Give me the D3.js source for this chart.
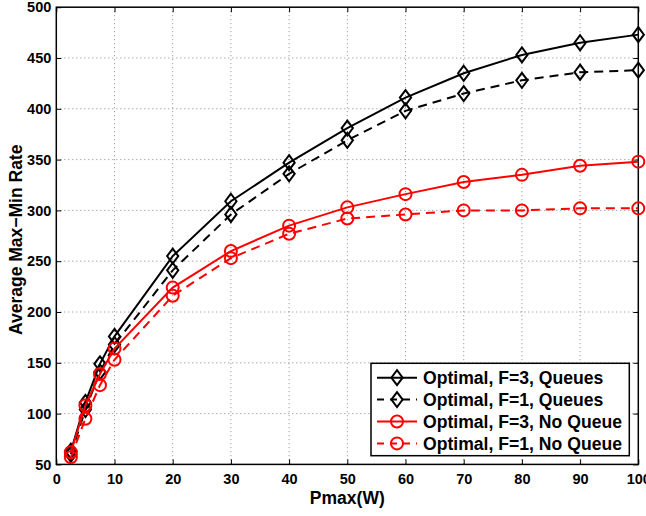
<!DOCTYPE html>
<html><head><meta charset="utf-8">
<script src="https://cdn.jsdelivr.net/npm/d3@7"></script>
<style>body{margin:0;background:#fff}svg{display:block}text{font-family:"Liberation Sans",Arial,sans-serif;font-weight:bold}</style>
</head><body><svg id="c" width="646" height="516"></svg>
<script>
const pmax = [2.5, 5, 7.5, 10, 20, 30, 40, 50, 60, 70, 80, 90, 100];
const f3Queues = [63, 111, 149, 176, 255, 309, 347, 381, 411, 435, 453, 465, 473];
const f1Queues = [60, 104, 141, 168, 241, 296, 336, 369, 398, 415, 428, 436, 438];
const f3NoQueue = [62, 108, 139, 164, 224, 260, 285, 303, 316, 328, 335, 344, 348];
const f1NoQueue = [57, 95, 128, 153, 216, 253, 277, 292, 296, 300, 300, 302, 302];
const seriesNames = ["Optimal, F=3, Queues", "Optimal, F=1, Queues", "Optimal, F=3, No Queue", "Optimal, F=1, No Queue"];
const xTicks = [0,10,20,30,40,50,60,70,80,90,100];
const yTicks = [50,100,150,200,250,300,350,400,450,500];

const series = [
  {name: seriesNames[0], vals: f3Queues, color: "#000", dash: null, marker: "diamond"},
  {name: seriesNames[1], vals: f1Queues, color: "#000", dash: "9,6", marker: "diamond"},
  {name: seriesNames[2], vals: f3NoQueue, color: "#ff0000", dash: null, marker: "circle"},
  {name: seriesNames[3], vals: f1NoQueue, color: "#ff0000", dash: "9,6", marker: "circle"}
];

const L = 56.3, R = 638.3, T = 7.2, B = 464.4;
const svg = d3.select("#c");
const x = d3.scaleLinear().domain([0,100]).range([L,R]);
const y = d3.scaleLinear().domain([50,500]).range([B,T]);

// grid
const g = svg.append("g");
g.selectAll(".gx").data(xTicks.slice(1,-1)).join("line")
  .attr("x1", d=>x(d)).attr("x2", d=>x(d)).attr("y1", T).attr("y2", B)
  .attr("stroke", "#888").attr("stroke-width", 1).attr("stroke-dasharray", "1,3");
g.selectAll(".gy").data(yTicks.slice(1,-1)).join("line")
  .attr("y1", d=>y(d)).attr("y2", d=>y(d)).attr("x1", L).attr("x2", R)
  .attr("stroke", "#888").attr("stroke-width", 1).attr("stroke-dasharray", "1,3");

// axes with inward ticks
const ax = d3.axisBottom(x).tickValues(xTicks).tickSize(-5).tickPadding(9);
const ay = d3.axisLeft(y).tickValues(yTicks).tickSize(-5).tickPadding(5);
const axT = d3.axisTop(x).tickValues(xTicks).tickSize(-5).tickFormat("");
const ayR = d3.axisRight(y).tickValues(yTicks).tickSize(-5).tickFormat("");
function style(sel){
  sel.select(".domain").remove();
  sel.selectAll("line").attr("stroke","#000").attr("stroke-width",1);
  sel.selectAll("text").attr("fill","#000").style("font-size","14.5px");
}
svg.append("g").attr("transform",`translate(0,${B})`).call(ax).call(style);
svg.append("g").attr("transform",`translate(${L},0)`).call(ay).call(style);
svg.append("g").attr("transform",`translate(0,${T})`).call(axT).call(style);
svg.append("g").attr("transform",`translate(${R},0)`).call(ayR).call(style);
svg.append("rect").attr("x",L).attr("y",T).attr("width",R-L).attr("height",B-T)
  .attr("fill","none").attr("stroke","#000").attr("stroke-width",1.5);

// lines
const line = d3.line().x(d=>x(d[0])).y(d=>y(d[1]));
const diamond = (cx,cy,s)=>`M${cx},${cy-s}L${cx+s*0.75},${cy}L${cx},${cy+s}L${cx-s*0.75},${cy}Z`;
function drawMarker(sel, m, cx, cy, color){
  if (m === "diamond") sel.append("path").attr("d", diamond(cx,cy,7.5)).attr("fill","none").attr("stroke",color).attr("stroke-width",2);
  else sel.append("circle").attr("cx",cx).attr("cy",cy).attr("r",6).attr("fill","none").attr("stroke",color).attr("stroke-width",2);
}
series.forEach(s=>{
  const pts = pmax.map((p,i)=>[p,s.vals[i]]);
  const gs = svg.append("g");
  gs.append("path").attr("d", line(pts)).attr("fill","none").attr("stroke",s.color)
    .attr("stroke-width",2).attr("stroke-dasharray", s.dash);
  pts.forEach(p=>drawMarker(gs, s.marker, x(p[0]), y(p[1]), s.color));
});

// legend
const lg = svg.append("g");
lg.append("rect").attr("x",371).attr("y",363.3).attr("width",258.3).attr("height",92.4)
  .attr("fill","#fff").attr("stroke","#000").attr("stroke-width",1.5);
series.forEach((s,i)=>{
  const ry = 377.7 + i*21.9;
  lg.append("line").attr("x1",377).attr("x2",417).attr("y1",ry).attr("y2",ry)
    .attr("stroke",s.color).attr("stroke-width",2).attr("stroke-dasharray", s.dash ? "7,6" : null);
  drawMarker(lg, s.marker, 397, ry, s.color);
  lg.append("text").attr("x",423).attr("y",ry).attr("dy","0.36em").style("font-size","17.6px").attr("fill","#000").text(s.name);
});

// axis labels
svg.append("text").attr("x",(L+R)/2).attr("y",504).attr("text-anchor","middle").style("font-size","17.5px").text("Pmax(W)");
svg.append("text").attr("transform",`translate(22,${(T+B)/2 + 4}) rotate(-90)`).attr("text-anchor","middle").style("font-size","17.5px").text("Average Max\u2212Min Rate");
</script></body></html>
